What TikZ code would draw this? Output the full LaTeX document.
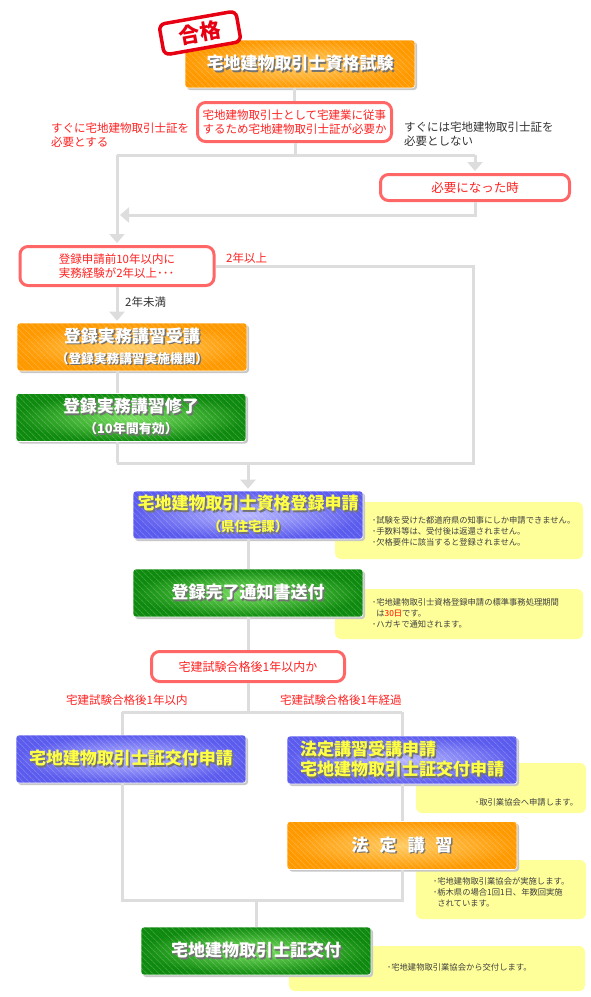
\documentclass[tikz,border=0pt]{standalone}
\usepackage{fontspec}
\setmainfont{Noto Sans CJK JP}
\usetikzlibrary{arrows.meta,shadows,patterns.meta}

\definecolor{linegray}{HTML}{DDDDDD}
\definecolor{boxorange}{HTML}{FF9900}
\definecolor{boxorangelt}{HTML}{FFCC66}
\definecolor{boxgreen}{HTML}{0E8A0E}
\definecolor{boxgreenlt}{HTML}{7AE060}
\definecolor{boxblue}{HTML}{5B5BEE}
\definecolor{boxbluelt}{HTML}{B8B8FF}
\definecolor{qred}{HTML}{FF6666}
\definecolor{qtext}{HTML}{FF2222}
\definecolor{noteyellow}{HTML}{FFFF99}
\definecolor{ytext}{HTML}{FFFF44}
\definecolor{stampred}{HTML}{E60012}

% text with a small dark shadow
\newcommand{\shtxt}[2][white]{\makebox[0pt][l]{\hspace{1.5pt}\raisebox{-1.5pt}{\textcolor{black!55}{#2}}}\textcolor{#1}{#2}}

\begin{document}
\begin{tikzpicture}[x=1pt,y=-1pt,
  conn/.style={draw=linegray,line width=3pt},
  arr/.style={conn,-{Triangle[width=15pt,length=9pt]},shorten >=2pt},
  bigbox/.style={minimum width=230pt,minimum height=48pt,rounded corners=3pt,inner sep=0pt,
    draw=white,line width=0.6pt,
    drop shadow={shadow xshift=2pt,shadow yshift=-2pt,fill=black!22,opacity=1},
    postaction={pattern={Lines[angle=-45,distance=4pt,line width=1pt]},pattern color=white,fill opacity=0.18},
    font=\bfseries\fontsize{17}{21}\selectfont,align=center},
  obox/.style={bigbox,inner color=boxorangelt,outer color=boxorange},
  gbox/.style={bigbox,inner color=boxgreenlt,outer color=boxgreen},
  bbox/.style={bigbox,inner color=boxbluelt,outer color=boxblue},
  qbox/.style={draw=qred,line width=3pt,fill=white,rounded corners=8pt,inner sep=0pt,
    text=qtext,font=\fontsize{11.5}{14}\selectfont,align=left},
  note/.style={fill=noteyellow,rounded corners=6pt,inner sep=0pt},
  notetxt/.style={inner sep=0pt,text=black!75,font=\fontsize{8.3}{11}\selectfont,align=left},
  lbl/.style={anchor=west,inner sep=0pt,font=\fontsize{11.5}{14}\selectfont,align=left},
  stamp/.style={draw=stampred,line width=3.5pt,fill=white,rounded corners=6pt,inner sep=0pt,
    minimum width=78pt,minimum height=31pt,text=stampred,font=\bfseries\fontsize{21}{21}\selectfont},
]
\useasboundingbox (0,0) rectangle (590,997);

% notes (behind the boxes)
\node[note,minimum width=248pt,minimum height=57pt] (note1) at (459,530.5) {};
\node[note,minimum width=248pt,minimum height=50pt] (note2) at (459,614) {};
\node[note,minimum width=170pt,minimum height=50pt] (note3) at (501,788) {};
\node[note,minimum width=170pt,minimum height=59pt] (note4) at (501,889.5) {};
\node[note,minimum width=296pt,minimum height=45pt] (note5) at (437,968.5) {};
\node[notetxt,anchor=north west] (note1txt) at (372,516) {･試験を受けた都道府県の知事にしか申請できません。\\･手数料等は、受付後は返還されません。\\･欠格要件に該当すると登録されません。};
\node[notetxt,anchor=north west] (note2txt) at (372,598) {･宅地建物取引士資格登録申請の標準事務処理期間\\\phantom{･}は\textcolor{red}{30日}です。\\･ハガキで通知されます。};
\node[notetxt,anchor=west] (note3txt) at (475,802) {･取引業協会へ申請します。};
\node[notetxt,anchor=north west] (note4txt) at (433,877) {･宅地建物取引業協会が実施します。\\･栃木県の場合1回1日、年数回実施\\\phantom{･}されています。};
\node[notetxt,anchor=west] (note5txt) at (387,967) {･宅地建物取引業協会から交付します。};

% exam and first question
\node[obox] (exam) at (300,64) {\shtxt{宅地建物取引士資格試験}};
\node[stamp,rotate=10] (pass) at (200,33) {合格};
\node[qbox,minimum width=194pt,minimum height=39pt] (dq1) at (294.5,122) {宅地建物取引士として宅建業に従事\\するため宅地建物取引士証が必要か};
\node[lbl,text=qtext] (nowlbl) at (51,135) {すぐに宅地建物取引士証を\\必要とする};
\node[lbl,text=black!80] (laterlbl) at (404,134) {すぐには宅地建物取引士証を\\必要としない};
\node[qbox,align=center,minimum width=189pt,minimum height=26pt,font=\fontsize{12.5}{15}\selectfont] (needed) at (475,187.5) {必要になった時};

% experience check
\node[qbox,minimum width=194pt,minimum height=39pt] (dq2) at (117,266) {登録申請前10年以内に\\実務経験が2年以上･･･};
\node[lbl,text=qtext] (morelbl) at (226,258) {2年以上};
\node[lbl,text=black!80] (lesslbl) at (125,302) {2年未満};
\node[obox] (course) at (132,347) {\shtxt{登録実務講習受講}\\{\fontsize{12.7}{16}\selectfont\shtxt{（登録実務講習実施機関）}}};
\node[gbox] (done) at (131,417.5) {\shtxt{登録実務講習修了}\\{\fontsize{13}{16}\selectfont\shtxt{（10年間有効）}}};

% registration
\node[bbox] (apply) at (248,515) {\shtxt[ytext]{宅地建物取引士資格登録申請}\\[1pt]{\fontsize{13.4}{16}\selectfont\shtxt[ytext]{（県住宅課）}}};
\node[gbox] (notice) at (248,593) {\shtxt{登録完了通知書送付}};
\node[qbox,align=center,minimum width=193pt,minimum height=30pt,font=\fontsize{12}{15}\selectfont] (dq3) at (248,666.5) {宅建試験合格後1年以内か};
\node[lbl,text=qtext] (inlbl) at (66,700) {宅建試験合格後1年以内};
\node[lbl,text=qtext] (outlbl) at (280,700) {宅建試験合格後1年経過};

% card
\node[bbox] (cardreq) at (131,759) {\shtxt[ytext]{宅地建物取引士証交付申請}};
\node[bbox,align=left] (coursereq) at (402,760) {\shtxt[ytext]{法定講習受講申請}\\[-1pt]\shtxt[ytext]{宅地建物取引士証交付申請}};
\node[obox] (legal) at (402,845.5) {\shtxt{法\hspace{11pt}定\hspace{11pt}講\hspace{11pt}習}};
\node[gbox] (issue) at (256,951) {\shtxt{宅地建物取引士証交付}};

% connectors
\coordinate (sp1) at (295,155);
\coordinate (sp1l) at (117,155);
\coordinate (sp1r) at (475,155);
\coordinate (bk1) at (475,215);
\coordinate (bk1l) at (117,215);
\draw[conn] (exam.south -| dq1) -- (dq1.north);
\draw[conn] (dq1.south -| sp1) -- (sp1);
\draw[conn] (sp1l) -- (sp1r);
\draw[arr] (sp1l) -- (dq2.north);
\draw[arr] (sp1r) -- (needed.north);
\draw[arr,shorten >=3pt] (needed.south) -- (bk1) -- (bk1l);

\coordinate (loopr) at (473,463);
\coordinate (loopl) at (117,463);
\coordinate (loopm) at (248,463);
\draw[conn] (dq2.east) -| (loopr) -- (loopl);
\draw[arr] (dq2.south) -- (dq2.south |- course.north);
\draw[conn] (course.south -| dq2) -- (done.north -| dq2);
\draw[conn] (done.south -| dq2) -- (loopl);
\draw[arr] (loopm) -- (apply.north);
\draw[conn] (apply) -- (notice);
\draw[conn] (notice) -- (dq3);

\coordinate (br) at (248,712);
\coordinate (brl) at (122,712);
\coordinate (brr) at (402,712);
\draw[conn] (dq3) -- (br);
\draw[conn] (brl) -- (brr);
\draw[conn] (brl) -- (brl |- cardreq.north);
\draw[conn] (brr) -- (coursereq);
\draw[conn] (coursereq) -- (legal);

\coordinate (mgl) at (122,900);
\coordinate (mgr) at (402,900);
\coordinate (mg) at (256,900);
\draw[conn] (cardreq.south -| brl) -- (mgl) -- (mgr) -- (legal);
\draw[conn] (mg) -- (issue);
\end{tikzpicture}
\end{document}
